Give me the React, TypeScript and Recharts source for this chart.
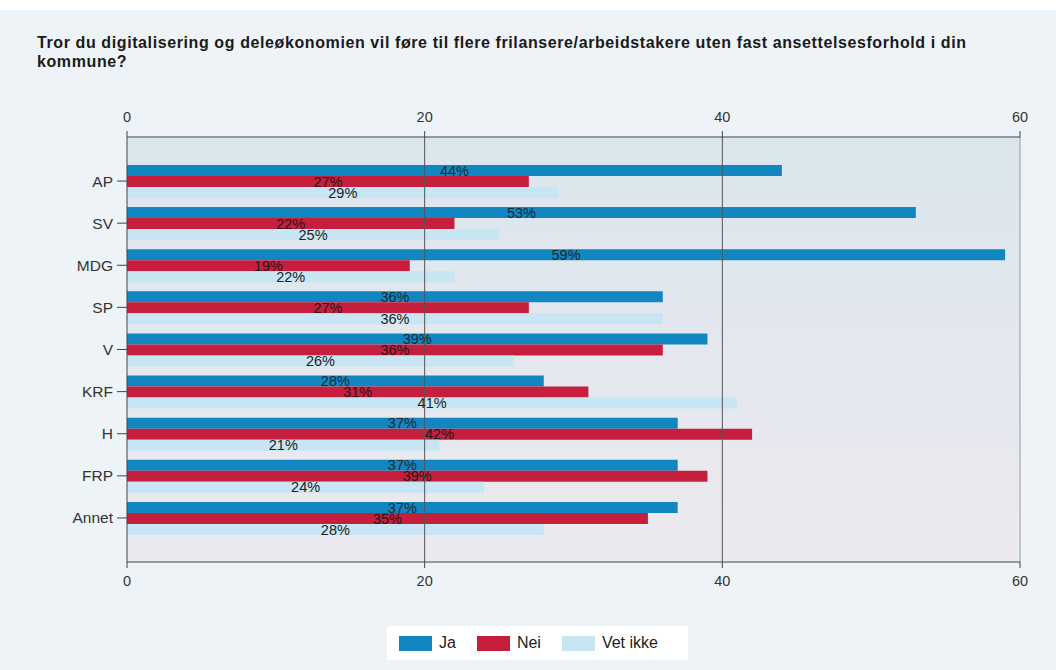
import React from "react";
import {
  BarChart,
  Bar,
  XAxis,
  YAxis,
  CartesianGrid,
  ReferenceLine,
  LabelList,
} from "recharts";

const parties = ["AP", "SV", "MDG", "SP", "V", "KRF", "H", "FRP", "Annet"];
const ja = [44, 53, 59, 36, 39, 28, 37, 37, 37];
const nei = [27, 22, 19, 27, 36, 31, 42, 39, 35];
const vetIkke = [29, 25, 22, 36, 26, 41, 21, 24, 28];
const xTicks = [0, 20, 40, 60];

const COLORS = { ja: "#1186c0", nei: "#c61f3d", vet: "#c8e5f3" };
const FONT = "'Liberation Sans', Arial, sans-serif";

const rows = parties.map((p, i) => ({
  party: p,
  ja: ja[i],
  nei: nei[i],
  vet: vetIkke[i],
}));

const pct = (v: any) => `${v}%`;
const tickStyle = { fill: "#333", fontSize: 14.5, fontFamily: FONT };

export default function App() {
  const legend = [
    { name: "Ja", color: COLORS.ja },
    { name: "Nei", color: COLORS.nei },
    { name: "Vet ikke", color: COLORS.vet },
  ];

  return (
    <div
      style={{
        position: "relative",
        width: 1056,
        height: 670,
        background: "#edf3f7",
        fontFamily: FONT,
        overflow: "hidden",
      }}
    >
      <style>{"body{margin:0}"}</style>
      <div style={{ position: "absolute", left: 0, top: 0, width: 1056, height: 10, background: "#fff" }} />
      <div
        style={{
          position: "absolute",
          left: 37,
          top: 33,
          fontSize: 16,
          letterSpacing: 0.6,
          fontWeight: "bold",
          color: "#1a1a1a",
          lineHeight: "19px",
          whiteSpace: "nowrap",
        }}
      >
        Tror du digitalisering og deleøkonomien vil føre til flere frilansere/arbeidstakere uten fast ansettelsesforhold i din
        <br />
        kommune?
      </div>

      <div style={{ position: "absolute", left: 0, top: 0 }}>
        <BarChart
          width={1056}
          height={670}
          data={rows}
          layout="vertical"
          margin={{ top: 107, right: 36, bottom: 78, left: 0 }}
          barGap={0}
          barSize={11}
        >
          <defs>
            <linearGradient id="plotBg" x1="0" y1="0" x2="0" y2="1">
              <stop offset="0%" stopColor="#dbe6ed" />
              <stop offset="100%" stopColor="#ede9f0" />
            </linearGradient>
          </defs>
          <CartesianGrid horizontal={false} vertical={false} fill="url(#plotBg)" stroke="none" xAxisId="top" />
          <XAxis
            xAxisId="top"
            orientation="top"
            type="number"
            domain={[0, 60]}
            ticks={xTicks}
            height={30}
            tick={tickStyle}
            tickSize={6}
            tickMargin={9}
            axisLine={{ stroke: "#444" }}
            tickLine={{ stroke: "#444" }}
          />
          <XAxis
            xAxisId="bottom"
            orientation="bottom"
            type="number"
            domain={[0, 60]}
            allowDataOverflow
            ticks={xTicks}
            height={30}
            tick={tickStyle}
            tickSize={6}
            tickMargin={8}
            axisLine={{ stroke: "#444" }}
            tickLine={{ stroke: "#444" }}
          />
          <YAxis
            type="category"
            dataKey="party"
            width={127}
            padding={{ top: 23, bottom: 23 }}
            tick={{ ...tickStyle, fontSize: 15.5 }}
            tickSize={10}
            tickMargin={4}
            axisLine={{ stroke: "#444" }}
            tickLine={{ stroke: "#444" }}
          />
          <ReferenceLine xAxisId="bottom" x={20} stroke="#555" />
          <ReferenceLine xAxisId="bottom" x={40} stroke="#555" />
          <ReferenceLine xAxisId="bottom" x={60} stroke="#9a9a9a" />
          <Bar xAxisId="top" dataKey="ja" name="Ja" fill={COLORS.ja} isAnimationActive={false}>
            <LabelList dataKey="ja" position="center" formatter={pct} fill="#1e2a33" fontSize={14.5} fontFamily={FONT} />
          </Bar>
          <Bar xAxisId="top" dataKey="nei" name="Nei" fill={COLORS.nei} isAnimationActive={false}>
            <LabelList dataKey="nei" position="center" formatter={pct} fill="#2a1518" fontSize={14.5} fontFamily={FONT} />
          </Bar>
          <Bar xAxisId="top" dataKey="vet" name="Vet ikke" fill={COLORS.vet} isAnimationActive={false}>
            <LabelList dataKey="vet" position="center" formatter={pct} fill="#222" fontSize={14.5} fontFamily={FONT} />
          </Bar>
        </BarChart>
      </div>

      <div
        style={{
          position: "absolute",
          left: 387,
          top: 626,
          width: 301,
          height: 34,
          background: "#fff",
          borderRadius: 2,
          display: "flex",
          alignItems: "center",
          paddingLeft: 12,
          boxSizing: "border-box",
          whiteSpace: "nowrap",
        }}
      >
        {legend.map((item) => (
          <div key={item.name} style={{ display: "flex", alignItems: "center", marginRight: 21 }}>
            <div style={{ width: 33, height: 15, background: item.color, marginRight: 7 }} />
            <span style={{ fontSize: 16, color: "#222" }}>{item.name}</span>
          </div>
        ))}
      </div>
    </div>
  );
}
